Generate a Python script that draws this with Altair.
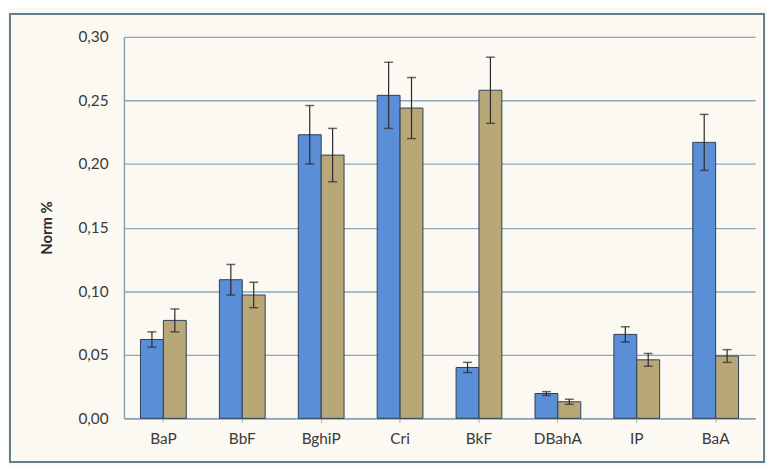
import altair as alt
import pandas as pd

categories = ["BaP", "BbF", "BghiP", "Cri", "BkF", "DBahA", "IP", "BaA"]
series_names = ["A", "B"]
values_a = [0.062, 0.109, 0.223, 0.254, 0.040, 0.0195, 0.066, 0.217]
errors_a = [0.006, 0.012, 0.023, 0.026, 0.004, 0.0015, 0.006, 0.022]
values_b = [0.077, 0.097, 0.207, 0.244, 0.258, 0.013, 0.046, 0.049]
errors_b = [0.009, 0.010, 0.021, 0.024, 0.026, 0.002, 0.005, 0.005]
y_ticks = [0.0, 0.05, 0.10, 0.15, 0.20, 0.25, 0.30]

rows = []
for i, c in enumerate(categories):
    rows.append({"cat": c, "series": series_names[0], "v": values_a[i],
                 "lo": values_a[i] - errors_a[i], "hi": values_a[i] + errors_a[i]})
    rows.append({"cat": c, "series": series_names[1], "v": values_b[i],
                 "lo": values_b[i] - errors_b[i], "hi": values_b[i] + errors_b[i]})
df = pd.DataFrame(rows)

FONT = "Lato"
W, H = 637, 385

xenc = alt.X("cat:N", sort=categories, title=None,
             scale=alt.Scale(paddingInner=0.42, paddingOuter=0.21),
             axis=alt.Axis(labelAngle=0, labelFontSize=15.5, labelColor="#3a3a3a",
                           labelFont=FONT, labelPadding=9, ticks=True, tickSize=4,
                           tickColor="#9fb3c0", domainColor="#86a2b2", domainWidth=1.5))
xoff = alt.XOffset("series:N", sort=series_names)

yscale = alt.Scale(domain=[0, 0.30], nice=False)

bars = alt.Chart(df).mark_bar(stroke="#2f3f55", strokeWidth=1).encode(
    x=xenc,
    xOffset=xoff,
    y=alt.Y("v:Q", scale=yscale, title="Norm %",
            axis=alt.Axis(values=y_ticks, format=".2f", labelExpr="replace(datum.label, '.', ',')",
                          labelFontSize=15.5, labelColor="#3a3a3a", labelFont=FONT, labelPadding=16,
                          ticks=False, domainColor="#86a2b2", domainWidth=1.5,
                          gridColor="#88a9bc", gridWidth=1.3,
                          titleFont=FONT, titleFontSize=15, titleFontWeight="bold",
                          titleColor="#2a2a2a", titlePadding=24)),
    color=alt.Color("series:N", sort=series_names, legend=None,
                    scale=alt.Scale(domain=series_names, range=["#5a8ed6", "#b9a877"])),
)

rules = alt.Chart(df).mark_rule(color="#2a2a2a", strokeWidth=1.2).encode(
    x=alt.X("cat:N", sort=categories),
    xOffset=xoff,
    y=alt.Y("lo:Q", scale=yscale),
    y2="hi:Q",
)
caps_hi = alt.Chart(df).mark_tick(color="#2a2a2a", thickness=1.5, size=9).encode(
    x=alt.X("cat:N", sort=categories), xOffset=xoff, y=alt.Y("hi:Q", scale=yscale))
caps_lo = alt.Chart(df).mark_tick(color="#2a2a2a", thickness=1.5, size=9).encode(
    x=alt.X("cat:N", sort=categories), xOffset=xoff, y=alt.Y("lo:Q", scale=yscale))

frame = alt.Chart(pd.DataFrame({"k": [0]})).mark_rect(
    fill=None, stroke="#5f7f90", strokeWidth=2, clip=False).encode(
    x=alt.value(-115), x2=alt.value(W + 9), y=alt.value(-23), y2=alt.value(H + 44))

chart = alt.layer(bars, rules, caps_hi, caps_lo, frame).properties(
    width=W, height=H,
    padding={"left": 117, "top": 27, "right": 12, "bottom": 45},
    autosize=alt.AutoSizeParams(type="none"),
    background="#fbf9f2",
).configure_view(stroke=None)

chart.save("out.html", embed_options={"renderer": "svg", "actions": False})
